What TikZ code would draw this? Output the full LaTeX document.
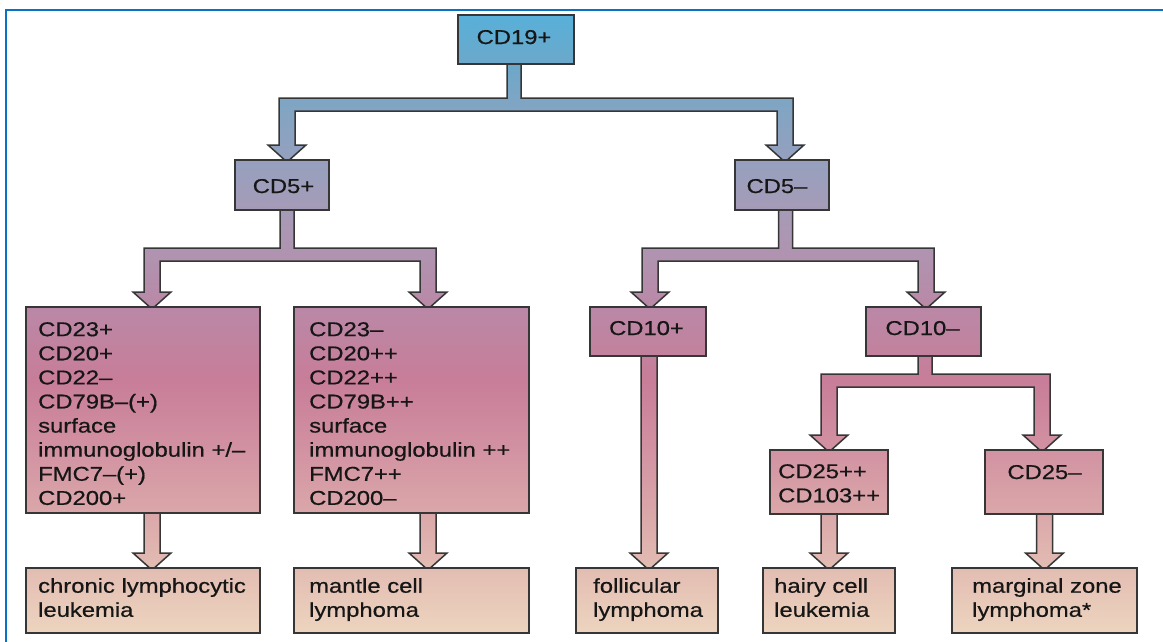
\documentclass[tikz,border=0pt]{standalone}
\usepackage{fontspec}
\setmainfont{Liberation Sans}[FakeStretch=1.19,FakeBold=0.6]
\usetikzlibrary{calc}

\definecolor{c00}{HTML}{55B2DC}
\definecolor{c01}{HTML}{5AAFD8}
\definecolor{c02}{HTML}{6CA8CA}
\definecolor{c03}{HTML}{80A5C3}
\definecolor{c04}{HTML}{96A0BE}
\definecolor{c05}{HTML}{A69BB7}
\definecolor{c06}{HTML}{B192AF}
\definecolor{c07}{HTML}{BA88A6}
\definecolor{c08}{HTML}{C87D98}
\definecolor{c09}{HTML}{D292A2}
\definecolor{c10}{HTML}{DAA6A9}
\definecolor{c11}{HTML}{E3BDB3}
\definecolor{c12}{HTML}{EDD5BF}
\definecolor{c13}{HTML}{EED7C0}
\definecolor{edgec}{HTML}{363636}
\definecolor{txtc}{HTML}{161616}
\definecolor{framec}{HTML}{0A72C4}

\pgfdeclareverticalshading{figshade}{100bp}{color(0bp)=(c13); color(25bp)=(c13); color(25.62bp)=(c12); color(30.54bp)=(c11); color(35.22bp)=(c10); color(39.9bp)=(c09); color(45.36bp)=(c08); color(50.82bp)=(c07); color(54.72bp)=(c06); color(58.62bp)=(c05); color(62.29bp)=(c04); color(66.81bp)=(c03); color(70.01bp)=(c02); color(73.44bp)=(c01); color(75bp)=(c00); color(100bp)=(c00)}

\tikzset{
  boxgeom/.style={rectangle, inner sep=0pt, outer sep=0pt, draw=none},
  edgeline/.style={draw=edgec, line width=1.5pt, line join=miter},
  lbl/.style={inner sep=0pt, text=txtc, font=\fontsize{20}{24.1}\selectfont},
  mlbl/.style={lbl, align=left, text width=250pt, anchor=north west},
}

% shaded shape with global vertical gradient, then outline
\newcommand\gshape[1]{%
  \begin{scope}\clip #1;\shade[shading=figshade] (0,0) rectangle (1163,641);\end{scope}%
  \draw[edgeline] #1;}
\newcommand\gbox[1]{\gshape{(#1.north west) rectangle (#1.south east)}}
% #1 src, #2 left target, #3 right target, #4 drop to bar, #5 src dx, #6 left dx, #7 right dx
\newcommand\forkarrow[7]{%
  \gshape{let \p{S}=($(#1.south)+(#5,0)$), \p{B}=($(#1.south)+(0,#4)$),
    \p{C}=($(#1.south)+(0,#4+13)$), \p{L}=($(#2.north)+(#6,2)$),
    \p{R}=($(#3.north)+(#7,2)$), \p{H}=($(#2.north)+(0,-15)$) in
    (\x{S}-7pt,\y{S}) -- (\x{S}-7pt,\y{B}) -- (\x{L}-8pt,\y{B}) -- (\x{L}-8pt,\y{H})
    -- (\x{L}-19pt,\y{H}) -- (\x{L},\y{L}) -- (\x{L}+19pt,\y{H}) -- (\x{L}+8pt,\y{H})
    -- (\x{L}+8pt,\y{C}) -- (\x{R}-8pt,\y{C}) -- (\x{R}-8pt,\y{H}) -- (\x{R}-19pt,\y{H})
    -- (\x{R},\y{R}) -- (\x{R}+19pt,\y{H}) -- (\x{R}+8pt,\y{H}) -- (\x{R}+8pt,\y{B})
    -- (\x{S}+7pt,\y{B}) -- (\x{S}+7pt,\y{S}) -- cycle}}
% #1 src, #2 target, #3 dx
\newcommand\vertarrow[3]{%
  \gshape{let \p{S}=($(#1.south)+(#3,0)$), \p{T}=($(#2.north)+(#3,2)$),
    \p{H}=($(#2.north)+(0,-15)$) in
    (\x{S}-8pt,\y{S}) -- (\x{S}-8pt,\y{H}) -- (\x{S}-19pt,\y{H}) -- (\x{S},\y{T})
    -- (\x{S}+19pt,\y{H}) -- (\x{S}+8pt,\y{H}) -- (\x{S}+8pt,\y{S}) -- cycle}}

\begin{document}
\begin{tikzpicture}[x=1pt,y=-1pt]
\useasboundingbox (0,0) rectangle (1163,641);
\fill[white] (0,0) rectangle (1163,641);
\draw[framec, line width=2.2pt] (6,645) -- (6,10) -- (1167,10);

% box geometry
\node[boxgeom, minimum width=116pt, minimum height=49pt] (b19) at (516,39.5) {};
\node[boxgeom, minimum width=94pt, minimum height=50pt] (b5p) at (282,185) {};
\node[boxgeom, minimum width=94pt, minimum height=50pt] (b5m) at (782,185) {};
\node[boxgeom, minimum width=234pt, minimum height=206pt] (b23p) at (143,410) {};
\node[boxgeom, minimum width=235pt, minimum height=206pt] (b23m) at (411.5,410) {};
\node[boxgeom, minimum width=116pt, minimum height=49pt] (b10p) at (648,331.5) {};
\node[boxgeom, minimum width=115pt, minimum height=49pt] (b10m) at (923.5,331.5) {};
\node[boxgeom, minimum width=118pt, minimum height=64pt] (b25p) at (829,482) {};
\node[boxgeom, minimum width=118pt, minimum height=64pt] (b25m) at (1044,482) {};
\node[boxgeom, minimum width=234pt, minimum height=65pt] (bcll) at (143,600.5) {};
\node[boxgeom, minimum width=235pt, minimum height=65pt] (bmcl) at (411.5,600.5) {};
\node[boxgeom, minimum width=142pt, minimum height=65pt] (bfl) at (647,600.5) {};
\node[boxgeom, minimum width=132pt, minimum height=65pt] (bhcl) at (829,600.5) {};
\node[boxgeom, minimum width=185pt, minimum height=65pt] (bmzl) at (1044.5,600.5) {};

% block arrows
\forkarrow{b19}{b5p}{b5m}{34}{-2}{5}{3}
\forkarrow{b5p}{b23p}{b23m}{38}{5}{9}{16.5}
\forkarrow{b5m}{b10p}{b10m}{38}{3.5}{2}{2.5}
\forkarrow{b10m}{b25p}{b25m}{18}{1.5}{0}{-2}
\vertarrow{b23p}{bcll}{9}
\vertarrow{b23m}{bmcl}{16.5}
\vertarrow{b10p}{bfl}{1}
\vertarrow{b25p}{bhcl}{0}
\vertarrow{b25m}{bmzl}{0.5}

% boxes
\gbox{b19}\gbox{b5p}\gbox{b5m}\gbox{b23p}\gbox{b23m}\gbox{b10p}\gbox{b10m}
\gbox{b25p}\gbox{b25m}\gbox{bcll}\gbox{bmcl}\gbox{bfl}\gbox{bhcl}\gbox{bmzl}

% labels
\node[lbl, anchor=base] (t19) at ($(b19.south)+(-2,-20)$) {CD19+};
\node[lbl, anchor=base] (t5p) at ($(b5p.south)+(1.5,-17)$) {CD5+};
\node[lbl, anchor=base] (t5m) at ($(b5m.south)+(-5,-17)$) {CD5–};
\node[lbl, anchor=base] (t10p) at ($(b10p.south)+(-1.5,-21)$) {CD10+};
\node[lbl, anchor=base] (t10m) at ($(b10m.south)+(-1,-21)$) {CD10–};
\node[lbl, anchor=base] (t25m) at ($(b25m.north)+(0.5,29)$) {CD25–};
\node[mlbl] (t23p) at ($(b23p.north west)+(12,15)$) {CD23+\\CD20+\\CD22–\\CD79B–(+)\\surface\\immunoglobulin +/–\\FMC7–(+)\\CD200+};
\node[mlbl] (t23m) at ($(b23m.north west)+(15,15)$) {CD23–\\CD20++\\CD22++\\CD79B++\\surface\\immunoglobulin ++\\FMC7++\\CD200–};
\node[mlbl] (t25p) at ($(b25p.north west)+(8,14)$) {CD25++\\CD103++};
\node[mlbl] (tcll) at ($(bcll.north west)+(12,10)$) {chronic lymphocytic\\leukemia};
\node[mlbl] (tmcl) at ($(bmcl.north west)+(15,10)$) {mantle cell\\lymphoma};
\node[mlbl] (tfl) at ($(bfl.north west)+(17,10)$) {follicular\\lymphoma};
\node[mlbl] (thcl) at ($(bhcl.north west)+(11,10)$) {hairy cell\\leukemia};
\node[mlbl] (tmzl) at ($(bmzl.north west)+(20,10)$) {marginal zone\\lymphoma*};
\end{tikzpicture}
\end{document}
